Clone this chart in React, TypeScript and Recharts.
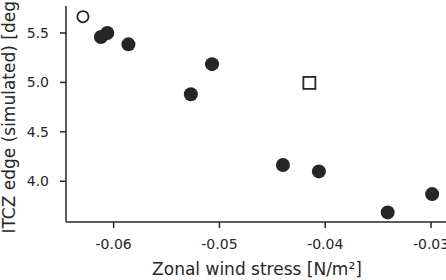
import { ScatterChart, Scatter, XAxis, YAxis, Label } from 'recharts';

// wind stress vs simulated ITCZ edge
const stressFilled = [-0.0612, -0.0606, -0.0586, -0.0527, -0.0507, -0.044, -0.0406, -0.0341, -0.0299];
const edgeFilled = [5.46, 5.5, 5.385, 4.88, 5.185, 4.165, 4.1, 3.685, 3.87];
const stressCircle = [-0.0629];
const edgeCircle = [5.665];
const stressSquare = [-0.0415];
const edgeSquare = [4.995];

const xTicks = [-0.06, -0.05, -0.04, -0.03];
const yTicks = [4.0, 4.5, 5.0, 5.5];

const INK = '#262626';

function toPoints(xs: number[], ys: number[]) {
  return xs.map((x, i) => ({ x, y: ys[i] }));
}

const filled = toPoints(stressFilled, edgeFilled);
const openCircle = toPoints(stressCircle, edgeCircle);
const openSquare = toPoints(stressSquare, edgeSquare);

function Dot(props: any) {
  return <circle cx={props.cx} cy={props.cy} r={7} fill={INK} />;
}

function Ring(props: any) {
  return <circle cx={props.cx} cy={props.cy} r={5.6} fill="#fff" stroke={INK} strokeWidth={1.8} />;
}

function Box(props: any) {
  const s = 12;
  return <rect x={props.cx - s / 2} y={props.cy - s / 2} width={s} height={s} fill="#fff" stroke={INK} strokeWidth={1.8} />;
}

function XLabel() {
  return (
    <text x={257} y={275} textAnchor="middle" fill={INK} fontSize={17}>
      Zonal wind stress [N/m²]
    </text>
  );
}

function YLabel() {
  return (
    <text x={15} y={114} transform="rotate(-90 15 114)" textAnchor="middle" fill={INK} fontSize={17}>
      ITCZ edge (simulated) [deg]
    </text>
  );
}

export default function App() {
  const tick = { fill: INK, fontSize: 14 };
  return (
    <div
      style={{
        position: 'absolute',
        left: 0,
        top: 0,
        width: 446,
        height: 280,
        overflow: 'hidden',
        background: '#fff',
        fontFamily: '"DejaVu Sans", sans-serif',
      }}
    >
      <ScatterChart width={470} height={280} margin={{ top: 6, right: 22, bottom: 0, left: 0 }}>
        <XAxis
          type="number"
          dataKey="x"
          domain={[-0.0645, -0.0284]}
          allowDataOverflow
          ticks={xTicks}
          tickFormatter={(v: number) => v.toFixed(2)}
          tick={tick}
          tickSize={6}
          tickMargin={11}
          height={58}
          axisLine={{ stroke: INK, strokeWidth: 1.5 }}
          tickLine={{ stroke: INK, strokeWidth: 1.5 }}
        >
          <Label content={<XLabel />} />
        </XAxis>
        <YAxis
          type="number"
          dataKey="y"
          domain={[3.588, 5.773]}
          allowDataOverflow
          ticks={yTicks}
          tickFormatter={(v: number) => v.toFixed(1)}
          tick={tick}
          tickSize={6}
          tickMargin={11}
          width={66}
          axisLine={{ stroke: INK, strokeWidth: 1.5 }}
          tickLine={{ stroke: INK, strokeWidth: 1.5 }}
        >
          <Label content={<YLabel />} />
        </YAxis>
        <Scatter data={filled} shape={<Dot />} isAnimationActive={false} />
        <Scatter data={openCircle} shape={<Ring />} isAnimationActive={false} />
        <Scatter data={openSquare} shape={<Box />} isAnimationActive={false} />
      </ScatterChart>
    </div>
  );
}
